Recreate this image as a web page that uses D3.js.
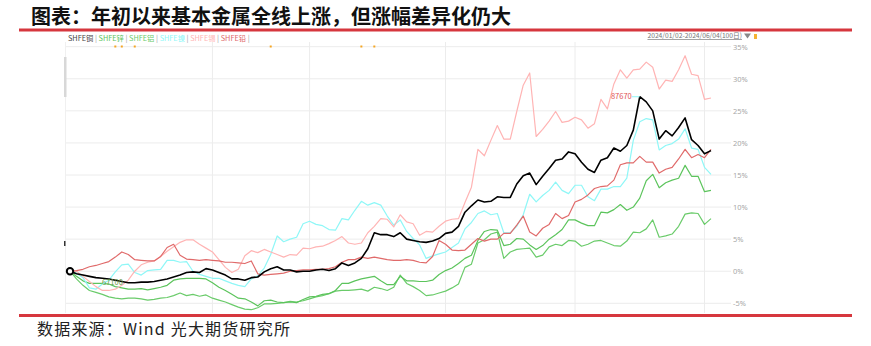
<!DOCTYPE html>
<html>
<head>
<meta charset="utf-8">
<script src="https://cdn.jsdelivr.net/npm/d3@7"></script>
<style>
  body { margin: 0; background: #fff; }
  svg { display: block; }
</style>
</head>
<body>
<div id="chart"></div>
<script>
// chart texts
var titleText = "图表：年初以来基本金属全线上涨，但涨幅差异化仍大";
var sourceText = "数据来源：Wind 光大期货研究所";
var rangeText = "2024/01/02-2024/06/04(100日)";

// legend names (same order as series below)
var seriesNames = ["SHFE铜", "SHFE锌", "SHFE铝", "SHFE镍", "SHFE锡", "SHFE铅"];
var seriesColors = ["#000000", "#5cc45c", "#6acb6a", "#8ff7f7", "#ffb4b4", "#e06a6a"];

// y ticks (percent) and index of month start grid lines
var yTicks = [35, 30, 25, 20, 15, 10, 5, 0, -5];
var monthStartIdx = [22, 37, 58, 78, 98];

// cumulative change since 2024/01/02, percent, 100 trading days
var copper = [0, -0.4, -0.6, -0.8, -1.0, -1.1, -1.2, -1.4, -1.6, -1.8,
  -1.8, -1.7, -1.7, -1.6, -1.4, -1.2, -0.9, -0.6, -0.2, -0.1,
  -0.2, 0.4, 0.2, -0.2, -0.6, -1.2, -1.2, -1.4, -1.0, -0.9,
  -0.1, 0.4, 0.7, 0.2, 0.2, -0.1, 0, 0, 0.2, 0.3,
  0.1, 0.4, 1.3, 0.9, 1.3, 2.0, 3.5, 6.0, 5.7, 5.7,
  5.4, 6.0, 5.0, 4.8, 4.6, 4.5, 4.7, 5.1, 5.9, 6.1,
  7.0, 9.2, 10.2, 11.1, 10.8, 10.9, 11.6, 11.5, 11.5, 13.6,
  14.9, 15.3, 13.5, 14.8, 16.0, 17.3, 17.5, 18.6, 18.3, 17.0,
  15.9, 15.4, 17.3, 17.7, 19.2, 18.7, 19.6, 22.0, 27.2, 26.4,
  25.0, 20.6, 21.9, 21.1, 22.4, 23.9, 20.5, 19.6, 18.3, 18.8];

var zinc = [0, -0.8, -1.5, -1.9, -1.9, -1.9, -2.0, -2.4, -2.6, -2.8,
  -2.8, -2.7, -2.9, -2.7, -2.5, -2.2, -1.4, -1.2, -1.1, -1.1,
  -1.1, -1.2, -1.8, -2.5, -3.0, -3.6, -4.2, -4.3, -4.8, -5.4,
  -4.6, -4.5, -4.8, -4.9, -4.8, -4.9, -4.4, -4.0, -3.9, -3.6,
  -3.5, -3.0, -1.9, -1.9, -1.5, -1.2, -1.0, -0.8, -1.5, -2.1,
  -2.1, -0.8, -1.5, -1.5, -1.6, -1.6, -1.4, -0.5, 0.1, 0.5,
  1.2, 2.0, 2.5, 4.8, 6.2, 6.5, 6.4, 4.0, 4.2, 5.1,
  5.0, 4.1, 3.4, 4.0, 5.0, 5.7, 6.5, 8.0, 8.0, 7.5,
  7.1, 7.1, 9.2, 9.1, 9.6, 10.4, 9.5, 10.0, 11.4, 14.1,
  15.1, 13.0, 13.8, 14.2, 14.5, 16.5, 14.8, 14.8, 12.4, 12.6];

var aluminum = [0, -1.2, -2.2, -3.0, -3.3, -3.6, -4.0, -4.2, -4.3, -4.2,
  -4.2, -4.3, -4.5, -4.4, -4.2, -4.1, -3.8, -3.4, -3.8, -3.6,
  -3.9, -3.7, -4.2, -4.5, -4.8, -5.2, -5.6, -5.9, -6.0, -5.7,
  -5.1, -5.1, -5.0, -4.9, -4.7, -4.8, -4.6, -4.3, -4.0, -3.8,
  -3.5, -3.1, -3.0, -3.0, -2.9, -2.8, -3.1, -2.5, -2.7, -3.0,
  -2.5, -0.6, -1.9, -2.4, -3.0, -3.8, -3.7, -3.4, -3.1, -2.6,
  -2.0, 0.6, 1.1, 4.4, 4.9, 5.8, 6.1, 2.0, 3.0, 3.4,
  3.5, 3.6, 2.2, 2.5, 3.8, 4.2, 4.0, 4.8, 4.7, 3.9,
  4.2, 4.7, 4.8, 4.4, 4.0, 3.9, 4.7, 6.1, 6.0, 6.6,
  8.0, 5.3, 5.5, 5.8, 7.0, 8.9, 9.1, 9.0, 7.3, 8.2];

var nickel = [0, -0.3, -1.0, -2.6, -2.8, -2.0, -1.4, -0.1, 1.0, 1.1,
  -0.2, -0.6, 0.1, 0.2, 0.3, 1.7, 1.7, 1.4, 1.5, 0.0,
  -0.5, -0.8, -1.1, -1.1, -1.5, -1.9, -2.2, -2.4, -1.2, -0.7,
  0.5, 2.6, 5.5, 4.6, 5.0, 5.3, 7.4, 7.8, 7.3, 7.1,
  6.5, 6.4, 8.2, 8.0, 9.5, 10.9, 10.3, 10.7, 10.3, 8.6,
  7.2, 8.0, 6.2, 5.1, 4.1, 2.0, 2.4, 2.7, 3.0, 3.7,
  4.4, 6.6, 7.6, 9.0, 9.4, 8.8, 9.0, 6.0, 6.0, 7.0,
  8.8, 12.0, 10.8, 11.8, 12.6, 13.9, 12.6, 12.1, 13.4, 13.4,
  11.6, 11.0, 12.8, 12.8, 13.2, 13.2, 14.5, 20.4, 23.3, 23.8,
  23.6, 18.9, 19.6, 19.9, 20.6, 22.2, 19.2, 19.0, 16.2, 15.1];

var tin = [0, 0, -0.8, -1.6, -2.4, -3.0, -3.0, -2.8, -2.2, -1.4,
  0.0, 1.0, 1.4, 1.6, 2.3, 3.1, 3.8, 4.5, 4.9, 4.9,
  4.2, 3.6, 3.0, 1.8, 0.6, -0.2, 0.3, 2.4, 3.2, 2.9,
  3.4, 3.0, 2.6, 2.2, 2.6, 2.5, 3.6, 3.5, 3.8, 3.9,
  4.3, 4.8, 5.4, 4.4, 4.2, 4.4, 6.0, 7.0, 8.2, 8.1,
  6.9, 8.8, 7.7, 7.4, 5.6, 6.2, 6.1, 7.0, 7.8, 8.1,
  8.2, 10.7, 13.1, 19.0, 18.0, 20.4, 22.7, 20.6, 20.6, 24.9,
  29.0, 30.9, 21.0, 22.1, 23.4, 24.9, 23.2, 23.4, 24.0, 23.6,
  22.3, 23.0, 26.8, 25.3, 29.2, 31.4, 30.1, 31.4, 31.5, 32.6,
  31.8, 28.4, 29.8, 29.6, 31.4, 33.6, 30.7, 30.5, 26.8, 27.0];

var lead = [0, 0.1, 0.3, 0.7, 0.9, 1.2, 1.5, 2.2, 3.0, 2.6,
  1.8, 1.7, 1.6, 1.6, 2.3, 3.7, 4.2, 2.5, 1.9, 1.8,
  1.7, 1.8, 1.7, 1.6, 1.4, 1.4, 1.3, 1.2, 1.6, -0.4,
  -0.6, -0.5, -0.4, -0.3, 0.0, 0.1, 0.2, 0.2, 0.3, 0.3,
  0.4, 0.7, 1.4, 1.8, 1.8, 2.2, 2.0, 2.2, 2.0, 1.8,
  1.7, 1.7, 1.8, 1.7, 1.4, 1.3, 2.3, 4.8, 4.2, 3.3,
  3.2, 3.3, 4.2, 5.1, 4.7, 5.0, 5.0, 5.9, 5.9, 7.2,
  8.6, 6.1, 5.5, 6.7, 7.3, 9.0, 8.2, 8.7, 10.8, 11.2,
  11.9, 12.9, 13.2, 13.3, 14.2, 16.6, 16.9, 16.9, 17.9, 17.0,
  17.0, 15.3, 15.9, 16.2, 17.5, 19.0, 17.7, 18.2, 17.7, 19.0];

// labels shown on the copper line
var startLabel = "67100";
var peakLabel = "87670";

var width = 871,
    height = 346;

var svg = d3.select("#chart").append("svg")
    .attr("width", width)
    .attr("height", height)
    .style("font-family", "'Noto Sans CJK SC', 'Noto Sans', sans-serif");

svg.append("rect").attr("width", width).attr("height", height).attr("fill", "#fff");

// title + red rules
svg.append("text")
    .attr("x", 31)
    .attr("y", 24)
    .attr("font-size", 20)
    .attr("font-weight", "bold")
    .attr("fill", "#111")
    .text(titleText);

svg.append("rect").attr("x", 19).attr("y", 28.5).attr("width", 833).attr("height", 3).attr("fill", "#d6373e");
svg.append("rect").attr("x", 19).attr("y", 314).attr("width", 833).attr("height", 3).attr("fill", "#d6373e");

svg.append("text")
    .attr("x", 37)
    .attr("y", 335)
    .attr("font-size", 16)
    .attr("letter-spacing", 1.2)
    .attr("fill", "#222")
    .text(sourceText);

// scales
var x = d3.scaleLinear().domain([0, copper.length - 1]).range([70, 711]);
var y = d3.scaleLinear().domain([-5, 35]).range([303.3, 46.7]);

// grid
var grid = svg.append("g");
grid.selectAll(".hgrid")
    .data(yTicks)
    .enter().append("line")
    .attr("class", "hgrid")
    .attr("x1", 66).attr("x2", 731)
    .attr("y1", function(d) { return y(d); })
    .attr("y2", function(d) { return y(d); })
    .attr("stroke", "#ececec")
    .attr("stroke-width", 1);

grid.selectAll(".vgrid")
    .data(monthStartIdx)
    .enter().append("line")
    .attr("class", "vgrid")
    .attr("x1", function(d) { return x(d); })
    .attr("x2", function(d) { return x(d); })
    .attr("y1", 42).attr("y2", 313)
    .attr("stroke", "#ececec")
    .attr("stroke-width", 1);

// left edge of plot + little scroll thumb
grid.append("line").attr("x1", 65.5).attr("x2", 65.5).attr("y1", 42).attr("y2", 313)
    .attr("stroke", "#f0f0f0");
grid.append("rect").attr("x", 64).attr("y", 57).attr("width", 2.5).attr("height", 40).attr("fill", "#d8d8d8");
grid.append("rect").attr("x", 64).attr("y", 241).attr("width", 1.5).attr("height", 5).attr("fill", "#333");

// right axis labels
var yAxis = d3.axisRight(y)
    .tickValues(yTicks)
    .tickSize(0)
    .tickPadding(0)
    .tickFormat(function(d) { return d + "%"; });

var axisG = svg.append("g")
    .attr("transform", "translate(733,0)")
    .call(yAxis);
axisG.select(".domain").remove();
axisG.selectAll("text")
    .attr("fill", "#a8a8a8")
    .attr("font-size", 7.5)
    .attr("font-family", "'Noto Sans', sans-serif");

// legend
var legend = svg.append("text")
    .attr("x", 68)
    .attr("y", 41)
    .attr("font-size", 7.3);
seriesNames.forEach(function(name, i) {
    legend.append("tspan").attr("fill", i == 0 ? "#444" : seriesColors[i]).text(name);
    legend.append("tspan").attr("fill", "#999").text(" | ");
});

// orange markers under the legend
var markIdx = [7, 8, 10, 31, 45, 47];
svg.selectAll(".mark")
    .data(markIdx)
    .enter().append("rect")
    .attr("class", "mark")
    .attr("x", function(d) { return x(d) - 1; })
    .attr("y", 45.5)
    .attr("width", 2)
    .attr("height", 2)
    .attr("fill", "#f5a623");

// date range at top right
svg.append("text")
    .attr("x", 742)
    .attr("y", 38)
    .attr("text-anchor", "end")
    .attr("font-size", 6.7)
    .attr("fill", "#777")
    .attr("text-decoration", "underline")
    .text(rangeText);
svg.append("path")
    .attr("d", "M744,33.5 L751,33.5 L747.5,38.5 Z")
    .attr("fill", "#888");
svg.append("rect").attr("x", 754).attr("y", 34).attr("width", 3).attr("height", 5).attr("fill", "#f5b335");

// lines
var line = d3.line()
    .x(function(d, i) { return x(i); })
    .y(function(d) { return y(d); });

var allSeries = [copper, zinc, aluminum, nickel, tin, lead];
var drawOrder = [2, 1, 3, 4, 5, 0];

drawOrder.forEach(function(k) {
    svg.append("path")
        .datum(allSeries[k])
        .attr("fill", "none")
        .attr("stroke", seriesColors[k])
        .attr("stroke-width", k == 0 ? 1.6 : 1.2)
        .attr("stroke-linejoin", "round")
        .attr("d", line);
});

// start marker on copper
svg.append("circle")
    .attr("cx", x(0))
    .attr("cy", y(copper[0]))
    .attr("r", 3.2)
    .attr("fill", "#fff")
    .attr("stroke", "#000")
    .attr("stroke-width", 2);

svg.append("text")
    .attr("x", 102)
    .attr("y", 285)
    .attr("font-size", 7.5)
    .attr("fill", "#6e9a45")
    .text(startLabel);

// peak label on copper
var peakIdx = d3.maxIndex(copper);
svg.append("line")
    .attr("x1", x(peakIdx) - 8).attr("x2", x(peakIdx))
    .attr("y1", y(copper[peakIdx])).attr("y2", y(copper[peakIdx]))
    .attr("stroke", "#8ff7f7");
svg.append("text")
    .attr("x", x(peakIdx) - 8)
    .attr("y", y(copper[peakIdx]) + 2.5)
    .attr("text-anchor", "end")
    .attr("font-size", 7.5)
    .attr("fill", "#e05555")
    .text(peakLabel);
</script>
</body>
</html>
